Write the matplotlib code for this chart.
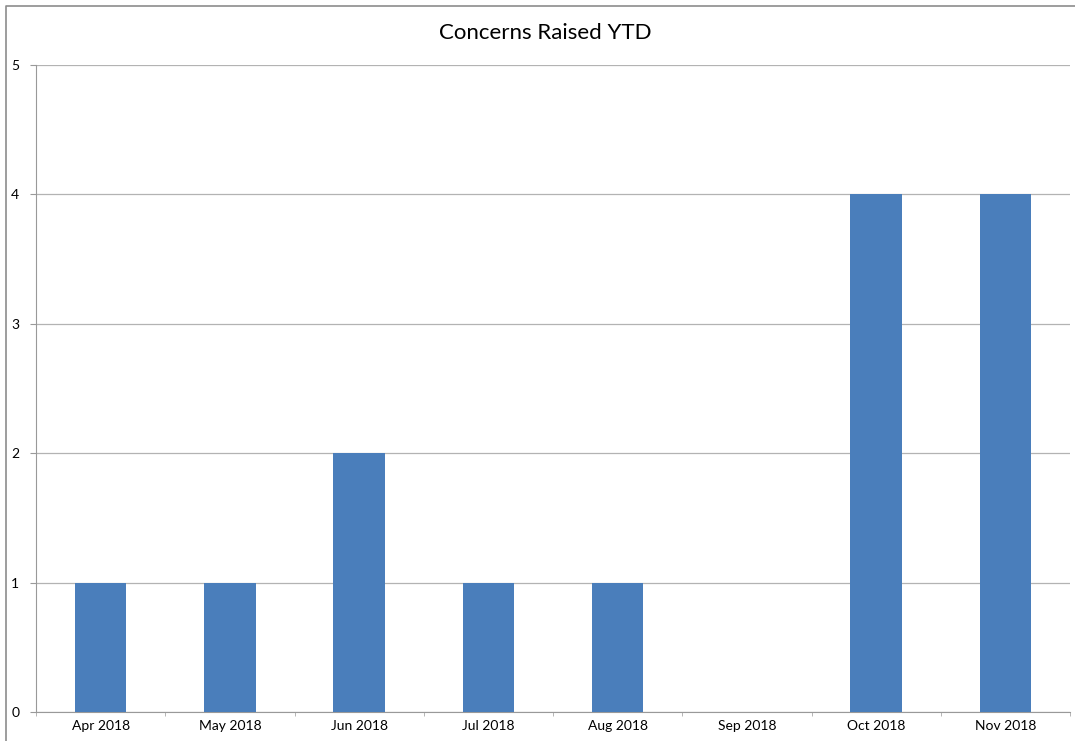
import matplotlib
matplotlib.use("Agg")
import matplotlib.pyplot as plt
import numpy as np
from matplotlib.lines import Line2D

plt.rcParams["font.family"] = ["Lato", "DejaVu Sans"]

months = ["Apr 2018", "May 2018", "Jun 2018", "Jul 2018",
          "Aug 2018", "Sep 2018", "Oct 2018", "Nov 2018"]
concerns = [1, 1, 2, 1, 1, 0, 4, 4]

fig = plt.figure(figsize=(10.75, 7.41), dpi=100)
# plot area in pixels: x 36..1070, y 65..712
ax = fig.add_axes([36 / 1075, 1 - 712 / 741, (1070 - 36) / 1075, (712 - 65) / 741])

x = np.arange(len(months))
ax.bar(x, concerns, width=0.4, color="#4a7ebb", zorder=3)

ax.set_xlim(-0.5, len(months) - 0.5)
ax.set_ylim(0, 5)
ax.set_yticks(range(6))
ax.yaxis.grid(True, color="#b3b3b3", linewidth=0.9, zorder=0)

ax.set_xticks(x)
ax.set_xticklabels(months, fontsize=10)
ax.set_xticks(np.arange(-0.5, len(months)), minor=True)
ax.tick_params(axis="x", which="major", length=0, pad=6)
ax.tick_params(axis="x", which="minor", length=3, color="#aaaaaa", direction="out")
ax.tick_params(axis="y", length=4, color="#999999", labelsize=10, pad=8)

for s in ["top", "right"]:
    ax.spines[s].set_visible(False)
for s in ["left", "bottom"]:
    ax.spines[s].set_color("#999999")

fig.text(545 / 1075, 1 - 33 / 741, "Concerns Raised YTD", ha="center", va="center", fontsize=16)

# chart frame: only the left and top edges are visible in the reference crop
fig.lines.append(Line2D([6 / 1075, 6 / 1075, 1.0], [0.0, 1 - 6 / 741, 1 - 6 / 741],
                        transform=fig.transFigure, color="#8c8c8c", linewidth=1.2))

fig.savefig("out.png", dpi=100)
